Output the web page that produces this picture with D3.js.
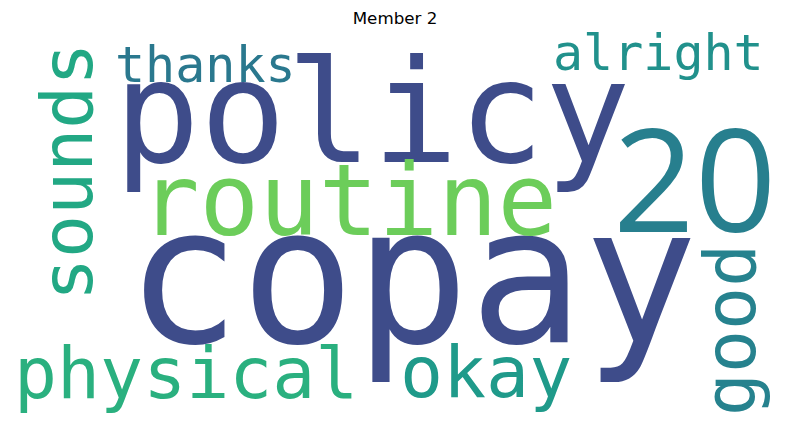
<!DOCTYPE html>
<html>
<head>
  <meta charset='utf-8'>
  <title>Member 2</title>
  <script src="https://cdnjs.cloudflare.com/ajax/libs/d3/7.8.5/d3.min.js"></script>
  <style>
    body { margin: 0; background: #fff; }
  </style>
</head>
<body>
  <svg width="790" height="427" id="chart"></svg>
  <script>
    // word counts for Member 2
    const words = ['copay', 'policy', '20', 'routine', 'sounds', 'physical', 'okay', 'good', 'thanks', 'alright'];
    const counts = [6, 4, 4, 3, 2, 2, 2, 2, 1, 1];

    // where the cloud put each word (canvas px), rotation and colour
    const layout = [
      { x: 116, y: 304, rot: 0,   color: '#3e4c8a' },
      { x: 104, y: 124, rot: 0,   color: '#3e4c8a' },
      { x: 603, y: 194, rot: 0,   color: '#277f8e' },
      { x: 130, y: 197, rot: 0,   color: '#6ccd5a' },
      { x: 82,  y: 263, rot: -90, color: '#22a884' },
      { x: 4,   y: 360, rot: 0,   color: '#2ab07f' },
      { x: 390, y: 359, rot: 0,   color: '#1f9a8a' },
      { x: 745, y: 378, rot: -90, color: '#26828e' },
      { x: 105, y: 44,  rot: 0,   color: '#2a788e' },
      { x: 543, y: 32,  rot: 0,   color: '#21918c' }
    ];

    const svg = d3.select('#chart');
    const W = 770, H = 385;
    const x = d3.scaleLinear().domain([0, W]).range([10, 780]);
    const y = d3.scaleLinear().domain([0, H]).range([38, 423]);
    const size = d3.scaleLinear().domain([1, 2, 3, 4, 6]).range([50, 71.5, 99, 143, 190]);

    svg.append('text')
      .attr('x', 395)
      .attr('y', 24)
      .attr('text-anchor', 'middle')
      .style('font-family', 'DejaVu Sans')
      .style('font-size', '16.7px')
      .text('Member 2');

    const data = words.map((w, i) => ({ word: w, count: counts[i], ...layout[i] }));

    svg.selectAll('text.word')
      .data(data)
      .join('text')
      .attr('class', 'word')
      .attr('transform', d => `translate(${x(d.x)},${y(d.y)}) rotate(${d.rot})`)
      // DejaVu mono has a dotted zero, so numbers go in Open Sans
      .style('font-family', d => /^\d+$/.test(d.word) ? 'Open Sans' : 'DejaVu Sans Mono')
      .style('font-size', d => size(d.count) + 'px')
      .style('fill', d => d.color)
      .text(d => d.word);
  </script>
</body>
</html>
